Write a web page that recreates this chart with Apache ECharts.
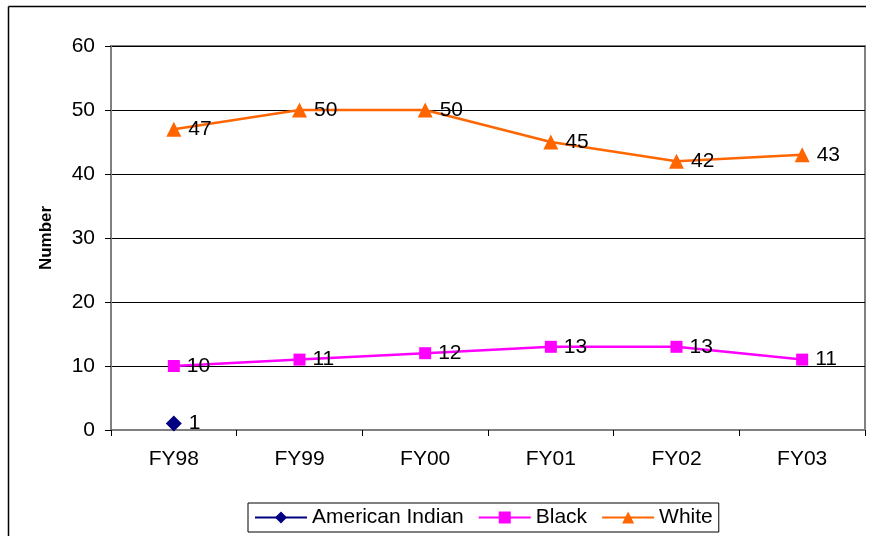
<!DOCTYPE html>
<html><head><meta charset="utf-8">
<script src="https://cdn.jsdelivr.net/npm/echarts@6/dist/echarts.min.js"></script>
<style>html,body{margin:0;padding:0;background:#fff}#c{width:873px;height:536px}</style>
</head><body><div id="c"></div>
<script>
const categories = ['FY98','FY99','FY00','FY01','FY02','FY03'];
const americanIndian = [1, null, null, null, null, null];
const black = [10, 11, 12, 13, 13, 11];
const white = [47, 50, 50, 45, 42, 43];
const yTicks = {min:0, max:60, interval:10};

const chart = echarts.init(document.getElementById('c'));
const font = 'Liberation Sans, Arial, sans-serif';
const FS = 21;
const lbl = {show:true, position:'right', color:'#000', fontSize:FS, fontFamily:font, distance:7};
chart.setOption({
  animation:false,
  graphic:[
    {type:'line', shape:{x1:8.5,y1:6.5,x2:866,y2:6.5}, style:{stroke:'#000', lineWidth:1.5}},
    {type:'line', shape:{x1:8.5,y1:6.5,x2:8.5,y2:540}, style:{stroke:'#000', lineWidth:1.5}}
  ],
  grid:{left:111, top:46, right:8, bottom:106, show:true, borderColor:'#808080', borderWidth:2},
  xAxis:{type:'category', data:categories, boundaryGap:true,
    axisLine:{lineStyle:{color:'#808080', width:2}},
    axisTick:{show:true, interval:0, length:6, lineStyle:{color:'#000'}},
    axisLabel:{color:'#000', fontSize:FS, fontFamily:font, margin:19}},
  yAxis:{type:'value', min:yTicks.min, max:yTicks.max, interval:yTicks.interval,
    name:'Number', nameLocation:'middle', nameGap:56, nameRotate:90,
    nameTextStyle:{color:'#000', fontSize:17, fontWeight:'bold', fontFamily:font},
    axisLine:{show:true, lineStyle:{color:'#808080', width:2}},
    axisTick:{show:true, length:6, lineStyle:{color:'#000'}},
    axisLabel:{color:'#000', fontSize:FS, fontFamily:font, margin:16},
    splitLine:{lineStyle:{color:'#000', width:1}}},
  legend:{bottom:4, left:248, itemWidth:52, itemHeight:15, itemGap:14,
    borderColor:'#000', borderWidth:1, padding:[4,6,4,6], borderRadius:0,
    textStyle:{color:'#000', fontSize:FS, fontFamily:font},
    data:['American Indian','Black','White']},
  series:[
    {name:'American Indian', type:'line', data:americanIndian, symbol:'diamond', symbolSize:16,
      itemStyle:{color:'#000080'}, lineStyle:{color:'#000080', width:2}, label:lbl},
    {name:'Black', type:'line', data:black, symbol:'rect', symbolSize:12,
      itemStyle:{color:'#FF00FF'}, lineStyle:{color:'#FF00FF', width:2.5}, label:lbl},
    {name:'White', type:'line', data:white, symbol:'triangle', symbolSize:15,
      itemStyle:{color:'#FF6600'}, lineStyle:{color:'#FF6600', width:2.5}, label:lbl}
  ]
});
</script></body></html>
